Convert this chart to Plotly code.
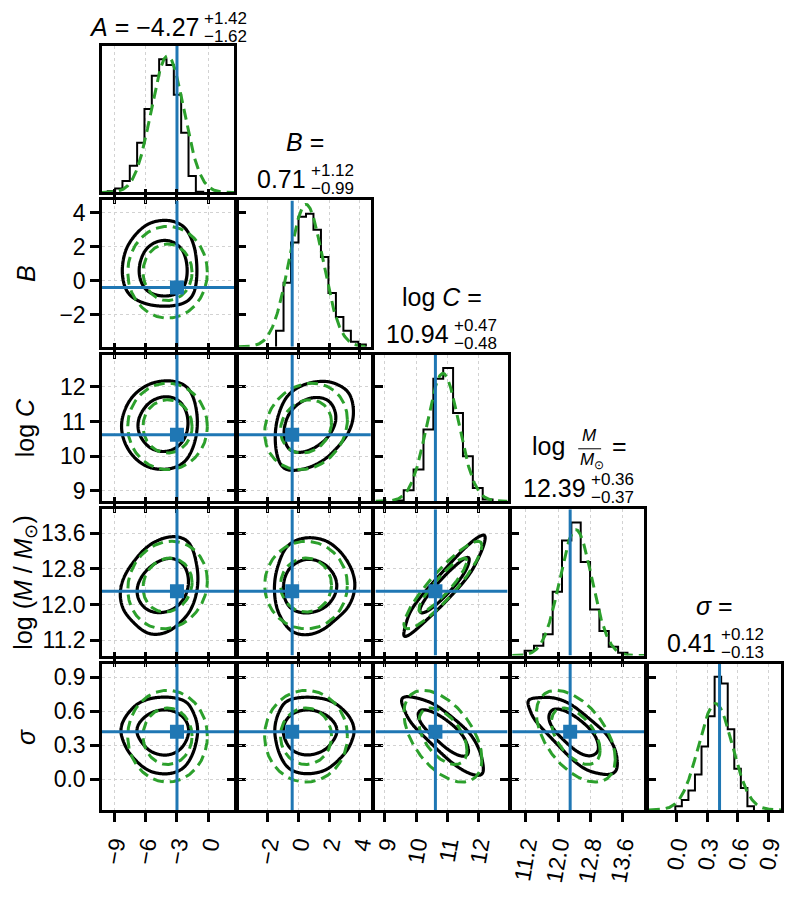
import math
import numpy as np
import plotly.graph_objects as go

# ---- data ----
names = ["A", "B", "logC", "logM", "sigma"]
axis_ranges = [[-10.15, 2.45], [-3.88, 4.72], [8.70, 12.93], [10.86, 14.14], [-0.27, 1.02]]
tick_vals = [[-9, -6, -3, 0], [-2, 0, 2, 4], [9, 10, 11, 12], [11.2, 12.0, 12.8, 13.6], [0.0, 0.3, 0.6, 0.9]]
tick_text = [["−9", "−6", "−3", "0"], ["−2", "0", "2", "4"], ["9", "10", "11", "12"],
             ["11.2", "12.0", "12.8", "13.6"], ["0.0", "0.3", "0.6", "0.9"]]
truth = [-3.0, -0.4, 10.62, 12.30, 0.42]

# 1d histograms: first bin edge, bin width, relative heights
hist_lo = [-9.60, -1.45, 9.29, 11.17, -0.012]
hist_bw = [0.70, 0.487, 0.316, 0.232, 0.064]
hist_A = [0.01, 0.03, 0.087, 0.20, 0.373, 0.627, 0.876, 1.00, 0.958, 0.734, 0.448, 0.124, 0.005]
hist_B = [0.121, 0.481, 0.784, 0.977, 1.00, 0.879, 0.674, 0.404, 0.224, 0.121, 0.039, 0.018]
hist_logC = [0.005, 0.083, 0.238, 0.538, 0.92, 1.00, 0.663, 0.338, 0.10, 0.0125]
hist_logM = [0.037, 0.074, 0.16, 0.48, 0.864, 1.00, 0.704, 0.346, 0.185, 0.067, 0.022]
hist_sigma = [0.028, 0.075, 0.146, 0.266, 0.477, 0.704, 1.00, 0.95, 0.606, 0.309, 0.166, 0.028]
hists = [hist_A, hist_B, hist_logC, hist_logM, hist_sigma]

# gaussian approximation (green dashed)
gauss_mean = [-3.9, 0.5, 10.86, 12.44, 0.38]
gauss_sd = [1.55, 1.1, 0.51, 0.40, 0.165]
gauss_peak = [1.025, 1.07, 0.96, 0.946, 0.80]

# pair correlations, order (1,0),(2,0),(2,1),(3,0),(3,1),(3,2),(4,0),(4,1),(4,2),(4,3)
pairs = [(1, 0), (2, 0), (2, 1), (3, 0), (3, 1), (3, 2), (4, 0), (4, 1), (4, 2), (4, 3)]
gauss_rho = [0.0, 0.0, 0.15, 0.1, 0.0, 0.9, 0.0, 0.0, -0.5, -0.5]
post_rho = [0.0, 0.05, 0.3, 0.2, 0.05, 0.93, 0.0, 0.0, -0.8, -0.72]
levels = [0.68, 0.95]

# title numbers
t_label = ["<i>A</i> = ", "<i>B</i> =", "log <i>C</i> =", None, "<i>σ</i> ="]
t_main = ["−4.27", "0.71", "10.94", "12.39", "0.41"]
t_up = ["+1.42", "+1.12", "+0.47", "+0.36", "+0.12"]
t_dn = ["−1.62", "−0.99", "−0.48", "−0.37", "−0.13"]
y_titles = [None, "<i>B</i>", "log <i>C</i>", "log (<i>M</i> / <i>M</i><sub>⊙</sub>)", "<i>σ</i>"]

BLUE = "#1f77b4"
GREEN = "#2ca02c"
FONT = "Liberation Sans"
BIG, SMALL, TICK = 25, 17, 23

# plot area geometry in px
PW, PH = 681.4, 772.0


def dom_x(j):
    return [137.2 * j / PW, (137.2 * j + 132.6) / PW]


def dom_y(i):
    top = 1 - 156.0 * i / PH
    return [top - 148.0 / PH, top]


zt = np.linspace(-6, 6, 2401)
Phi = 0.5 * (1 + np.vectorize(math.erf)(zt / math.sqrt(2)))


def marginal(k, grid):
    h = np.array(hists[k])
    edges = hist_lo[k] + hist_bw[k] * np.arange(len(h) + 1)
    idx = np.searchsorted(edges, grid, side="right") - 1
    dens = np.where((idx >= 0) & (idx < len(h)), h[np.clip(idx, 0, len(h) - 1)], 0.0)
    dx = grid[1] - grid[0]
    s = 0.6 * hist_bw[k]
    n = int(4 * s / dx)
    kern = np.exp(-0.5 * ((np.arange(-n, n + 1) * dx) / s) ** 2)
    dens = np.convolve(dens, kern / kern.sum(), mode="same") + 1e-9
    dens = dens / (dens.sum() * dx)
    u = np.clip(np.cumsum(dens) * dx, 1e-6, 1 - 1e-6)
    return dens, np.interp(u, Phi, zt)


def tw(s, size):
    w = {".": 0.278, "−": 0.584, "+": 0.584, " ": 0.278, "=": 0.584, "A": 0.667}
    return sum(w.get(c, 0.556) for c in s) * size


fig = go.Figure()
layout = {}
annotations = []
shapes = []
p = 0
for i in range(5):
    for j in range(i + 1):
        p += 1
        xa = "x" if p == 1 else f"x{p}"
        ya = "y" if p == 1 else f"y{p}"
        xkey = "xaxis" if p == 1 else f"xaxis{p}"
        ykey = "yaxis" if p == 1 else f"yaxis{p}"
        common = dict(showline=True, linecolor="black", linewidth=2.5, ticks="outside",
                      ticklen=9, tickwidth=2.5, tickcolor="black", zeroline=False,
                      tickfont=dict(size=TICK, color="black", family=FONT),
                      gridcolor="#d2d2d2", griddash="dot", gridwidth=1)
        xax = dict(common, domain=dom_x(j), anchor=ya, range=axis_ranges[j],
                   tickvals=tick_vals[j], ticktext=tick_text[j], showgrid=True,
                   showticklabels=(i == 4), tickangle=-80)
        if i == j:
            h = hists[i]
            ymax = 1.1 * max(h)
            edges = [hist_lo[i] + hist_bw[i] * k for k in range(len(h) + 1)]
            fig.add_trace(go.Scatter(x=[edges[0]] + edges[:-1] + [edges[-1]], y=[0] + h + [0],
                                     mode="lines", line=dict(color="black", width=2, shape="hv"),
                                     xaxis=xa, yaxis=ya, hoverinfo="skip"))
            gx = np.linspace(axis_ranges[i][0], axis_ranges[i][1], 300)
            gy = gauss_peak[i] * max(h) * np.exp(-0.5 * ((gx - gauss_mean[i]) / gauss_sd[i]) ** 2)
            fig.add_trace(go.Scatter(x=gx, y=gy, mode="lines",
                                     line=dict(color=GREEN, width=3, dash="11px,6px"),
                                     xaxis=xa, yaxis=ya, hoverinfo="skip"))
            fig.add_trace(go.Scatter(x=[truth[i], truth[i]], y=[0, ymax], mode="lines",
                                     line=dict(color=BLUE, width=3), xaxis=xa, yaxis=ya,
                                     hoverinfo="skip"))
            xax["mirror"] = True
            yax = dict(showline=True, linecolor="black", linewidth=2.5, mirror=True,
                       domain=dom_y(i), anchor=xa, range=[0, ymax], showticklabels=False,
                       ticks="", showgrid=False, zeroline=False)
        else:
            q = pairs.index((i, j))
            # posterior contours from marginals + correlation
            sx = axis_ranges[j][1] - axis_ranges[j][0]
            sy = axis_ranges[i][1] - axis_ranges[i][0]
            gxx = np.linspace(axis_ranges[j][0] - 0.15 * sx, axis_ranges[j][1] + 0.15 * sx, 260)
            gyy = np.linspace(axis_ranges[i][0] - 0.15 * sy, axis_ranges[i][1] + 0.15 * sy, 260)
            fx, ax_ = marginal(j, gxx)
            fy, by_ = marginal(i, gyy)
            r = post_rho[q]
            a = ax_[None, :]
            b = by_[:, None]
            cop = np.exp(-(r * r * (a * a + b * b) - 2 * r * a * b) / (2 * (1 - r * r))) / math.sqrt(1 - r * r)
            D = fy[:, None] * fx[None, :] * cop
            flat = np.sort(D.ravel())[::-1]
            cum = np.cumsum(flat)
            cum /= cum[-1]
            t_in = flat[np.searchsorted(cum, levels[0])]
            t_out = flat[np.searchsorted(cum, levels[1])]
            fig.add_trace(go.Contour(x=gxx, y=gyy, z=D, autocontour=False,
                                     contours=dict(coloring="none", start=t_out, end=t_in * 1.0001,
                                                   size=t_in - t_out),
                                     line=dict(color="black", width=3.2, smoothing=1.0),
                                     showscale=False, hoverinfo="skip", xaxis=xa, yaxis=ya))
            # gaussian ellipses
            rg = gauss_rho[q]
            tt = np.linspace(0, 2 * np.pi, 240)
            for lev in levels:
                rad = math.sqrt(-2 * math.log(1 - lev))
                ex = gauss_mean[j] + rad * gauss_sd[j] * np.cos(tt)
                ey = gauss_mean[i] + rad * gauss_sd[i] * (rg * np.cos(tt) + math.sqrt(1 - rg * rg) * np.sin(tt))
                fig.add_trace(go.Scatter(x=ex, y=ey, mode="lines",
                                         line=dict(color=GREEN, width=3, dash="11px,6px"),
                                         xaxis=xa, yaxis=ya, hoverinfo="skip"))
            fig.add_trace(go.Scatter(x=[truth[j], truth[j]], y=axis_ranges[i], mode="lines",
                                     line=dict(color=BLUE, width=3), xaxis=xa, yaxis=ya, hoverinfo="skip"))
            fig.add_trace(go.Scatter(x=axis_ranges[j], y=[truth[i], truth[i]], mode="lines",
                                     line=dict(color=BLUE, width=3), xaxis=xa, yaxis=ya, hoverinfo="skip"))
            fig.add_trace(go.Scatter(x=[truth[j]], y=[truth[i]], mode="markers",
                                     marker=dict(symbol="square", size=14, color=BLUE),
                                     xaxis=xa, yaxis=ya, hoverinfo="skip"))
            xax["mirror"] = "allticks"
            yax = dict(common, domain=dom_y(i), anchor=xa, range=axis_ranges[i],
                       tickvals=tick_vals[i], ticktext=tick_text[i], showgrid=True,
                       showticklabels=(j == 0), mirror="allticks")
        layout[xkey] = xax
        layout[ykey] = yax


def note(text, x, y, size, xanchor="center", yanchor="bottom", xshift=0, yshift=0, angle=0):
    annotations.append(dict(text=text, x=x, y=y, xref="paper", yref="paper", xanchor=xanchor,
                            yanchor=yanchor, xshift=xshift, yshift=yshift, textangle=angle,
                            showarrow=False, font=dict(size=size, color="black", family=FONT)))


# titles above the diagonal panels
for i in range(5):
    cx = sum(dom_x(i)) / 2
    top = dom_y(i)[1]
    main = t_main[i] if i > 0 else t_label[0] + t_main[0]
    w_main = tw(main.replace("<i>", "").replace("</i>", ""), BIG)
    w_sup = tw(t_up[i], SMALL)
    off = (w_main - w_sup) / 2
    base = 3 if i == 0 else 5
    note(main, cx, top, BIG, "right", "bottom", off, base)
    note(t_up[i], cx, top, SMALL, "left", "bottom", off + 1, base + 13)
    note(t_dn[i], cx, top, SMALL, "left", "bottom", off + 1, base - 5)
    if i in (1, 2, 4):
        note(t_label[i], cx, top, BIG, "center", "bottom", 0, 42)
    if i == 3:
        note("log", cx, top, BIG, "right", "bottom", -11, 47)
        note("<i>M</i>", cx, top, SMALL, "center", "bottom", 11, 62)
        note("<i>M</i><sub>⊙</sub>", cx, top, SMALL, "center", "top", 14, 61)
        note("=", cx, top, BIG, "left", "bottom", 32, 47)
        shapes.append(dict(type="line", xref="paper", yref="paper", x0=cx + 0 / PW, x1=cx + 23 / PW,
                           y0=top + 61 / PH, y1=top + 61 / PH, line=dict(color="black", width=1)))

# row labels on the left
for i in range(1, 5):
    note(y_titles[i], -77 / PW, sum(dom_y(i)) / 2, BIG, "center", "middle", angle=-90)

# the page body adds an 8 px offset, so the figure is 8 px smaller than the window
fig.update_layout(**layout)
fig.update_layout(width=790, height=889, margin=dict(l=94, r=14.6, t=37.7, b=79.3),
                  plot_bgcolor="white", paper_bgcolor="white", showlegend=False,
                  font=dict(family=FONT, color="black"), annotations=annotations, shapes=shapes)

fig.write_html("out.html")
